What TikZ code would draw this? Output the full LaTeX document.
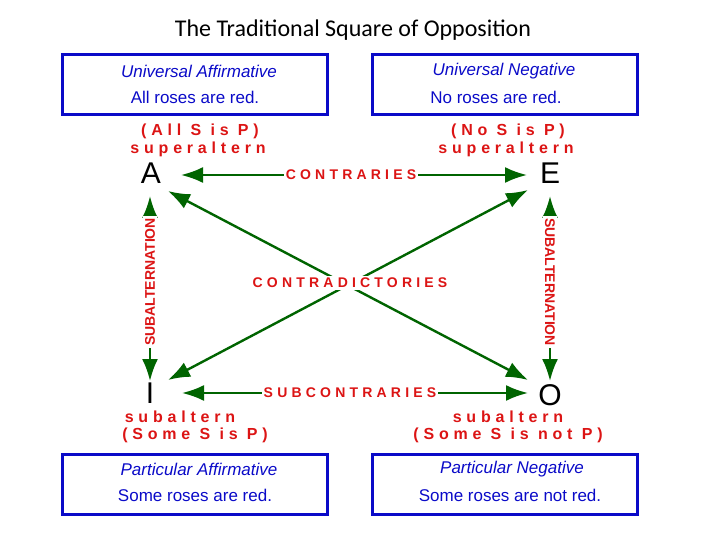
\documentclass[tikz,border=0pt]{standalone}
\usepackage{fontspec}
\setmainfont{Liberation Sans}
\newfontfamily\titlefont{Carlito}
\newfontfamily\spaced[LetterSpace=30]{Liberation Sans Bold}
\newfontfamily\boldsans{Liberation Sans Bold}
\usetikzlibrary{arrows.meta}
\definecolor{bx}{RGB}{10,10,200}
\definecolor{rd}{RGB}{220,20,20}
\definecolor{gr}{RGB}{0,100,0}
\tikzset{
  box/.style={draw=bx,line width=3pt,minimum width=265pt,minimum height=60pt},
  boxtext/.style={text=bx,font=\fontsize{17}{19}\selectfont},
  boxital/.style={text=bx,font=\fontsize{17}{19}\selectfont\itshape},
  red/.style={text=rd,font=\fontsize{16}{17}\selectfont\spaced,inner sep=1pt},
  lbl/.style={text=rd,font=\fontsize{14}{15}\selectfont\spaced,fill=white,inner sep=2pt},
  vlbl/.style={text=rd,font=\fontsize{14}{15}\selectfont\boldsans,fill=white,inner sep=2pt},
  letter/.style={font=\fontsize{30}{32}\selectfont,inner sep=0pt},
  arr/.style={draw=gr,line width=2.4pt,{Latex[length=22pt,width=16pt]}-{Latex[length=22pt,width=16pt]}}
}
\begin{document}
\begin{tikzpicture}[x=1pt,y=-1pt]
\useasboundingbox (0,0) rectangle (720,540);
\node[font=\titlefont\fontsize{24}{28}\selectfont] (title) at (353,30) {The Traditional Square of Opposition};
\node[box] (b1) at (194.5,85) {};
\node[box] (b2) at (504.5,85) {};
\node[box] (b3) at (194.5,484.5) {};
\node[box] (b4) at (504.5,484.5) {};
\node[boxital] (t1) at (199,71) {Universal Affirmative};
\node[boxtext] (u1) at (195,97) {All roses are red.};
\node[boxital] (t2) at (504,71) {Universal Negative};
\node[boxtext] (u2) at (496,97) {No roses are red.};
\node[boxital] (t3) at (199,469) {Particular Affirmative};
\node[boxtext] (u3) at (195,495) {Some roses are red.};
\node[boxital] (t4) at (512,469) {Particular Negative};
\node[boxtext] (u4) at (510,495) {Some roses are not red.};
\node[red] (r1) at (200,131) {(All S is P)};
\node[red] (r2) at (198,149) {superaltern};
\node[red] (r3) at (508,131) {(No S is P)};
\node[red] (r4) at (506,149) {superaltern};
\node[red] (r5) at (180,417) {subaltern};
\node[red] (r6) at (195,435) {(Some S is P)};
\node[red] (r7) at (508,417) {subaltern};
\node[red] (r8) at (508,435) {(Some S is not P)};
\node[letter] (A) at (151,173) {A};
\node[letter] (E) at (550,173) {E};
\node[letter] (I) at (150,393) {I};
\node[letter] (O) at (550,395) {O};
\draw[arr] (181,175) coordinate (a1) -- (527,175) coordinate (e1);
\node[lbl] (con) at (351,175) {CONTRARIES};
\draw[arr] (150,196) coordinate (a2) -- (150,381) coordinate (i2);
\node[vlbl,rotate=90] (sub1) at (150,282) {SUBALTERNATION};
\draw[arr] (550,196) coordinate (e2) -- (550,381) coordinate (o2);
\node[vlbl,rotate=-90] (sub2) at (550,282) {SUBALTERNATION};
\draw[arr] (168,191) coordinate (a3) -- (528,380) coordinate (o3);
\draw[arr] (528,190) coordinate (e3) -- (168,380) coordinate (i3);
\node[lbl] (cd) at (350,283) {CONTRADICTORIES};
\draw[arr] (182,393) coordinate (i4) -- (528,393) coordinate (o4);
\node[lbl] (sc) at (350,393) {SUBCONTRARIES};
\end{tikzpicture}
\end{document}
